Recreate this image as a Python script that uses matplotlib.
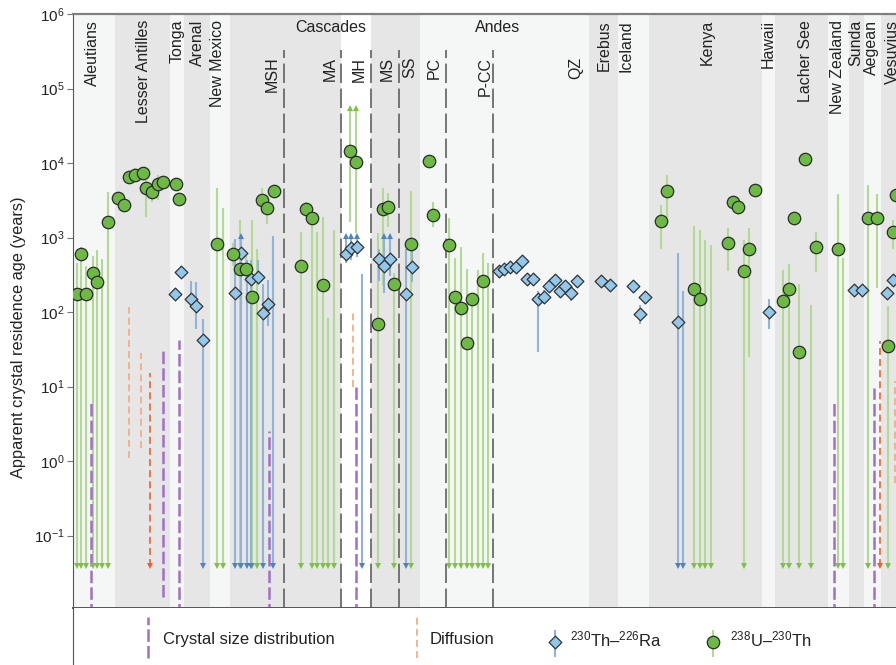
import matplotlib
matplotlib.use("Agg")
import matplotlib.pyplot as plt
import numpy as np

plt.rcParams['font.family'] = ['Liberation Sans', 'DejaVu Sans']
plt.rcParams['mathtext.fontset'] = 'custom'
plt.rcParams['mathtext.rm'] = 'Liberation Sans'
plt.rcParams['mathtext.default'] = 'regular'
plt.rcParams['lines.scale_dashes'] = False

#### DATA (x = position along the compilation, age in years) #####
# region bands
band_edges = [73, 115, 170, 184, 210, 230, 341, 371, 420, 589, 618, 649, 762, 775, 828, 849, 864, 881, 896]
band_shade = ['L', 'G', 'L', 'G', 'L', 'G', 'W', 'G', 'L', 'G', 'L', 'G', 'L', 'G', 'L', 'G', 'L', 'G']

region_names = ['Aleutians', 'Lesser Antilles', 'Tonga', 'Arenal', 'New Mexico', 'Erebus', 'Iceland',
                'Kenya', 'Hawaii', 'Lacher See', 'New Zealand', 'Sunda', 'Aegean', 'Vesuvius']
region_x = [92, 143, 177, 197, 217, 604, 626, 707, 768, 805, 838, 856, 871, 892]
sub_names = ['MSH', 'MA', 'MH', 'MS', 'SS', 'PC', 'P-CC', 'QZ']
sub_x = [272, 330, 359, 387, 410, 434, 485, 576]
group_names = ['Cascades', 'Andes']
group_x = [331, 498]
separator_x = [284, 341, 371, 399, 446, 493]

# 238U-230Th ages; lower nan = open-ended down, upper inf = open-ended up
uth_x = [77, 81, 86, 93, 97, 108,
         118, 124, 129, 135, 143, 146, 152, 158, 163, 176, 179,
         217, 233, 240, 246, 252, 262, 267, 274,
         301, 306, 312, 323, 350, 356, 378, 383, 388, 394, 411,
         429, 433, 449, 455, 461, 467, 472, 483,
         661, 667, 694, 700, 728, 733, 738, 744, 749, 755,
         783, 789, 794, 799, 805, 816, 838, 868, 877, 888, 893, 896]
uth_age = [175, 600, 175, 330, 250, 1600,
           3400, 2750, 6400, 6900, 7400, 4600, 4100, 5200, 5600, 5200, 3300,
           820, 600, 380, 380, 160, 3200, 2500, 4200,
           420, 2400, 1800, 230, 14500, 10300, 68, 2400, 2600, 240, 820,
           10700, 2000, 800, 160, 112, 38, 150, 260,
           1650, 4150, 205, 150, 850, 3000, 2600, 355, 700, 4400,
           140, 205, 1800, 29, 11200, 740, 700, 1800, 1800, 35, 1170, 3700]
uth_lo = [np.nan, np.nan, np.nan, np.nan, np.nan, np.nan,
          2900, 2400, 5500, 6000, 6500, 1900, 3000, 3200, 4700, 4600, 2900,
          np.nan, 420, np.nan, 250, np.nan, 2100, 1500, 3500,
          np.nan, 1900, np.nan, np.nan, 1630, 1150, np.nan, 220, 1400, np.nan, np.nan,
          9000, 1400, np.nan, np.nan, np.nan, np.nan, np.nan, np.nan,
          700, 1880, np.nan, np.nan, 350, 2500, 2000, np.nan, 25, 3800,
          np.nan, np.nan, 1600, np.nan, 9500, 340, np.nan, np.nan, 210, np.nan, 700, 3000]
uth_hi = [450, 750, 420, 560, 680, 4100,
          4000, 3100, 7600, 8500, 8600, 5900, 4500, 7000, 6500, 5900, 3700,
          4600, 850, 1700, 560, 1700, 4600, 3300, 5000,
          1180, 3000, 2200, 1900, np.inf, np.inf, 1150, 4600, 4000, 330, 4200,
          12500, 3000, 1800, 530, 740, 380, 180, 620,
          2730, 6900, 1430, 1260, 1350, 3600, 3000, 925, 1350, 5200,
          370, 440, 2000, 240, 13000, 1180, 3800, 5000, 3800, 120, 1720, 4500]
# 238U-230Th upper limits only
uth_line_x = [102, 223, 257, 317, 328, 334, 478, 488, 705, 711, 811, 843]
uth_line_top = [520, 2500, 700, 1200, 83, 1260, 370, 450, 925, 800, 125, 530]

# 230Th-226Ra ages
ra_x = [175, 181, 191, 196, 203,
        235, 241, 251, 258, 263, 268,
        346, 351, 357, 379, 384, 390, 406, 412,
        499, 504, 510, 516, 522, 527, 533, 538, 544, 549, 555, 560, 565, 571, 577,
        601, 610, 633, 640, 645, 678, 769, 854, 862, 887, 893]
ra_age = [175, 345, 150, 120, 42,
          180, 620, 275, 295, 98, 130,
          600, 720, 740, 510, 420, 510, 175, 400,
          350, 380, 400, 400, 480, 275, 275, 150, 160, 220, 270, 190, 220, 180, 260,
          260, 230, 220, 93, 160, 74, 100, 200, 200, 180, 270]
ra_lo = [150, 290, 120, 60, np.nan,
         np.nan, np.nan, np.nan, 230, np.nan, 65,
         450, 500, 550, 260, 180, 300, np.nan, 250,
         310, 340, 360, 350, 430, 240, 240, 29, 130, 190, 230, 160, 180, 140, 220,
         230, 200, 190, 70, 130, np.nan, 60, 180, 180, 150, 240]
ra_hi = [210, 420, 260, 250, 80,
         950, np.inf, 500, 500, 240, 270,
         np.inf, np.inf, np.inf, 700, np.inf, np.inf, 700, 700,
         400, 430, 450, 450, 540, 320, 320, 190, 200, 260, 310, 230, 260, 210, 300,
         300, 260, 250, 125, 190, 620, 150, 230, 230, 210, 310]
ra_line_x = [247, 273, 362, 683]
ra_line_top = [500, 1050, 325, 190]

# crystal size distribution ranges (top age, bottom age)
csd_x = [91, 163, 179, 269, 356, 834, 874]
csd_top = [6.0, 34, 42, 2.5, 10, 6.5, 9.5]
csd_bot = [1e-3, 0.015, 1e-3, 1e-3, 1e-3, 1e-3, 1e-3]

# diffusion ranges; bottom nan = open-ended
diff_x = [129, 141, 150, 353, 880, 895]
diff_top = [117, 28, 15, 107, 41, 12]
diff_bot = [1.1, 1.5, np.nan, 10, np.nan, 0.5]

ARROW_LO = 0.039
UTH_UP = 55000
RA_UP = 1050

#### COLOURS #####
shade_col = {'L': '#f5f6f6', 'G': '#e6e6e6', 'W': '#ffffff'}
uth_face, uth_bar, uth_head = '#6cb944', '#b2da94', '#7cc243'
ra_face, ra_bar, ra_head = '#92c8ec', '#93b2d8', '#4f82c2'
csd_col = '#a070c8'
diff_col, diff_head = '#f3a97a', '#e8642c'
text_col = '#222222'

##### Figure #####
fig = plt.figure(figsize=(8.96, 6.65), dpi=100)
ax_l, ax_b = 73 / 896, 57 / 665
ax = fig.add_axes([ax_l, ax_b, 1 - ax_l, 594 / 665])
ax.set_yscale('log')
ax.set_xlim(73, 896)
ax.set_ylim(10 ** -1.973, 1e6)

for i, s in enumerate(band_shade):
    ax.axvspan(band_edges[i], band_edges[i + 1], color=shade_col[s], lw=0, zorder=0)

for xs in separator_x:
    ax.axvline(xs, ymin=0, ymax=0.94, color='#6b6b6b', lw=1.3, dashes=(14, 4), zorder=1)


def draw_bars(xs, lo, hi, bar_col, head_col, up_level):
    for xi, l, h in zip(xs, lo, hi):
        bot = ARROW_LO if np.isnan(l) else l
        top = up_level if np.isinf(h) else h
        ax.vlines(xi, bot, top, color=bar_col, lw=1.5, zorder=2)
        if np.isnan(l):
            ax.plot(xi, ARROW_LO, marker='v', color=head_col, ms=4.5, mew=0, zorder=3)
        if np.isinf(h):
            ax.plot(xi, up_level, marker='^', color=head_col, ms=4.5, mew=0, zorder=3)


draw_bars(uth_x, uth_lo, uth_hi, uth_bar, uth_head, UTH_UP)
draw_bars(uth_line_x, [np.nan] * len(uth_line_x), uth_line_top, uth_bar, uth_head, UTH_UP)
draw_bars(ra_x, ra_lo, ra_hi, ra_bar, ra_head, RA_UP)
draw_bars(ra_line_x, [np.nan] * len(ra_line_x), ra_line_top, ra_bar, ra_head, RA_UP)

for xi, t, b in zip(csd_x, csd_top, csd_bot):
    ax.vlines(xi, b, t, color=csd_col, lw=1.8, linestyles=(0, (9, 3)), zorder=2)
for xi, t, b in zip(diff_x, diff_top, diff_bot):
    if np.isnan(b):
        ax.vlines(xi, ARROW_LO, t, color=diff_head, lw=1.2, linestyles=(0, (5, 3)), zorder=2)
        ax.plot(xi, ARROW_LO, marker='v', color=diff_head, ms=4.5, mew=0, zorder=3)
    else:
        ax.vlines(xi, b, t, color=diff_col, lw=1.2, linestyles=(0, (5, 3)), zorder=2)

ax.scatter(ra_x, ra_age, s=42, marker='D', c=ra_face, edgecolors='#333333', linewidths=0.9, zorder=4)
ax.scatter(uth_x, uth_age, s=80, marker='o', c=uth_face, edgecolors='#2b2b2b', linewidths=0.9, zorder=5)

# labels
tr = ax.get_xaxis_transform()
for name, xn in zip(region_names, region_x):
    ax.text(xn, 0.99, name, rotation=90, ha='center', va='top', fontsize=11.5, color=text_col,
            transform=tr, zorder=6)
for name, xn in zip(sub_names, sub_x):
    ax.text(xn, 0.928, name, rotation=90, ha='center', va='top', fontsize=11.5, color=text_col,
            transform=tr, zorder=6)
for name, xn in zip(group_names, group_x):
    ax.text(xn, 0.977, name, ha='center', va='center', fontsize=11.5, color=text_col,
            transform=tr, zorder=6)

ax.set_yticks([10.0 ** k for k in range(-1, 7)])
ax.minorticks_off()
ax.tick_params(axis='y', direction='out', length=4, width=0.8, color='#777777', labelsize=11,
               labelcolor=text_col, pad=2)
ax.set_xticks([])
ax.set_ylabel('Apparent crystal residence age (years)', fontsize=11.8, color=text_col)
ax.yaxis.set_label_coords(-0.057, 0.456)
ax.spines['right'].set_visible(False)
ax.spines['top'].set_color('#808080')
ax.spines['top'].set_linewidth(1.6)
ax.spines['bottom'].set_color('#555555')
ax.spines['bottom'].set_linewidth(1.4)
ax.spines['left'].set_color('#555555')

##### Legend strip #####
lg = fig.add_axes([ax_l, 0, 1 - ax_l, ax_b])
lg.set_xlim(73, 896)
lg.set_ylim(0, 1)
lg.set_xticks([])
lg.set_yticks([])
for sp in ['top', 'right', 'bottom']:
    lg.spines[sp].set_visible(False)
lg.spines['left'].set_color('#555555')

lg.vlines(148, 0.12, 0.84, color=csd_col, lw=1.8, linestyles=(0, (9, 3)))
lg.text(163, 0.44, 'Crystal size distribution', fontsize=12, va='center', color=text_col)
lg.vlines(417, 0.12, 0.84, color=diff_col, lw=1.2, linestyles=(0, (5, 3)))
lg.text(430, 0.44, 'Diffusion', fontsize=12, va='center', color=text_col)
lg.vlines(555, 0.14, 0.62, color=ra_bar, lw=1.5)
lg.scatter([555], [0.40], s=42, marker='D', c=ra_face, edgecolors='#333333', linewidths=0.9, zorder=3)
lg.text(570, 0.44, r'$^{230}$Th–$^{226}$Ra', fontsize=12, va='center', color=text_col)
lg.vlines(713, 0.14, 0.62, color=uth_bar, lw=1.5)
lg.scatter([713], [0.40], s=80, marker='o', c=uth_face, edgecolors='#2b2b2b', linewidths=0.9, zorder=3)
lg.text(730, 0.44, r'$^{238}$U–$^{230}$Th', fontsize=12, va='center', color=text_col)

fig.savefig('out.png', dpi=100)
